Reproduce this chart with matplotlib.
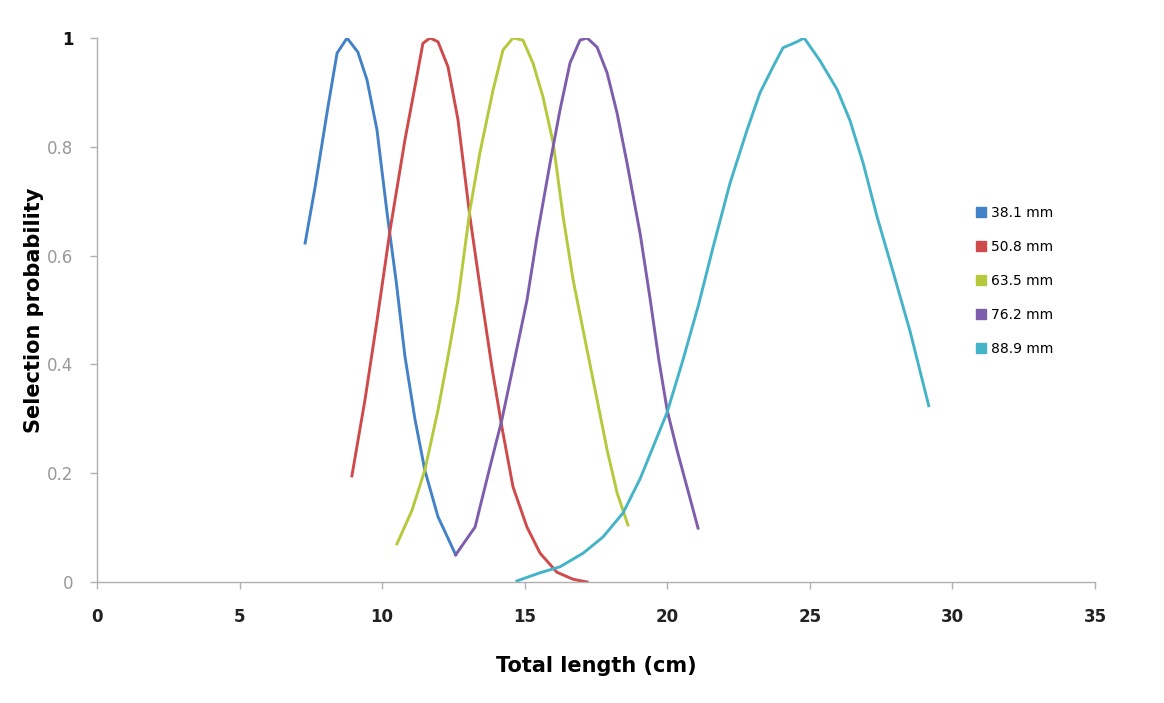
import numpy as np
import matplotlib
matplotlib.use("Agg")
import matplotlib.pyplot as plt
from matplotlib.lines import Line2D

# values (x = total length cm, y = selection probability)
x_381 = [7.30, 7.65, 8.10, 8.42, 8.77, 9.15, 9.47, 9.82, 10.17, 10.50, 10.80, 11.15, 11.50, 11.96, 12.58]
y_381 = [0.623, 0.726, 0.873, 0.972, 1.0, 0.974, 0.923, 0.831, 0.68, 0.55, 0.415, 0.30, 0.205, 0.12, 0.050]

x_508 = [8.94, 9.40, 9.82, 10.28, 10.80, 11.15, 11.43, 11.68, 11.96, 12.31, 12.66, 13.08, 13.50,
         13.85, 14.20, 14.59, 15.08, 15.54, 16.13, 16.70, 17.19]
y_508 = [0.195, 0.335, 0.48, 0.647, 0.8125, 0.91, 0.99, 1.0, 0.993, 0.947, 0.85, 0.671, 0.518,
         0.395, 0.285, 0.175, 0.101, 0.053, 0.018, 0.005, 0.0]

x_635 = [10.52, 11.05, 11.50, 11.96, 12.31, 12.66, 13.08, 13.43, 13.89, 14.24, 14.59, 14.94, 15.29,
         15.64, 16.00, 16.35, 16.70, 17.19, 17.54, 17.89, 18.24, 18.62]
y_635 = [0.07, 0.132, 0.206, 0.316, 0.414, 0.518, 0.684, 0.789, 0.904, 0.978, 1.0, 0.996, 0.954,
         0.892, 0.807, 0.671, 0.555, 0.426, 0.335, 0.243, 0.164, 0.105]

x_762 = [12.58, 13.26, 13.78, 14.20, 14.59, 15.08, 15.43, 15.89, 16.24, 16.59, 16.94, 17.19, 17.54,
         17.89, 18.24, 18.59, 19.05, 19.40, 19.70, 20.00, 20.34, 20.69, 21.08]
y_762 = [0.050, 0.101, 0.211, 0.298, 0.395, 0.518, 0.634, 0.770, 0.868, 0.954, 0.996, 1.0, 0.983,
         0.936, 0.862, 0.770, 0.64, 0.52, 0.41, 0.315, 0.243, 0.175, 0.099]

x_889 = [14.73, 15.54, 16.24, 17.05, 17.75, 18.45, 19.05, 19.99, 20.55, 21.10, 21.61, 22.20, 22.80,
         23.25, 23.71, 24.06, 24.55, 24.80, 25.36, 25.96, 26.41, 26.87, 27.36, 27.92, 28.52, 29.17]
y_889 = [0.002, 0.017, 0.028, 0.053, 0.083, 0.127, 0.19, 0.311, 0.408, 0.51, 0.616, 0.733, 0.831,
         0.899, 0.947, 0.982, 0.993, 1.0, 0.958, 0.905, 0.848, 0.770, 0.671, 0.570, 0.46, 0.324]

labels = ["38.1 mm", "50.8 mm", "63.5 mm", "76.2 mm", "88.9 mm"]
colors = ["#4382C6", "#CF4A4A", "#B6C83C", "#7E5EAC", "#45B3C8"]

fig = plt.figure(figsize=(11.64, 7.03), dpi=100)
ax = fig.add_axes([0.0833, 0.1721, 0.8574, 0.7739])

series = [(x_381, y_381), (x_508, y_508), (x_635, y_635), (x_762, y_762), (x_889, y_889)]
for (xs, ys), lab, c in zip(series, labels, colors):
    ax.plot(xs, ys, color=c, lw=2.1, label=lab, solid_joinstyle="round")

ax.set_xlim(0, 35)
ax.set_ylim(0, 1)
ax.set_xticks([0, 5, 10, 15, 20, 25, 30, 35])
ax.set_yticks([0, 0.2, 0.4, 0.6, 0.8, 1])
ax.set_yticklabels(["0", "0.2", "0.4", "0.6", "0.8", "1"])

for s in ["top", "right"]:
    ax.spines[s].set_visible(False)
for s in ["left", "bottom"]:
    ax.spines[s].set_color("#b0b0b0")
    ax.spines[s].set_linewidth(1.0)

ax.tick_params(axis="both", direction="out", length=5, color="#b0b0b0", width=1)
ax.tick_params(axis="x", labelsize=12, labelcolor="#222222", pad=14)
ax.tick_params(axis="y", labelsize=12, labelcolor="#999999", pad=12)
for t in ax.get_xticklabels():
    t.set_fontweight("bold")
# top label "1" is dark and bold in the original
ax.get_yticklabels()[-1].set_color("#111111")
ax.get_yticklabels()[-1].set_fontweight("bold")

ax.set_xlabel("Total length (cm)", fontsize=15, fontweight="bold", labelpad=21)
ax.set_ylabel("Selection probability", fontsize=15, fontweight="bold", labelpad=2)

# square swatches like the Excel legend
handles = [Line2D([], [], linestyle="none", marker="s", markersize=7,
                  markerfacecolor=c, markeredgecolor=c) for c in colors]
ax.legend(handles, labels, loc="upper left", bbox_to_anchor=(0.868, 0.715), frameon=False,
          fontsize=10, handlelength=0.8, handletextpad=0.3, labelspacing=1.45)

fig.savefig("out.png", dpi=100, facecolor="white")
